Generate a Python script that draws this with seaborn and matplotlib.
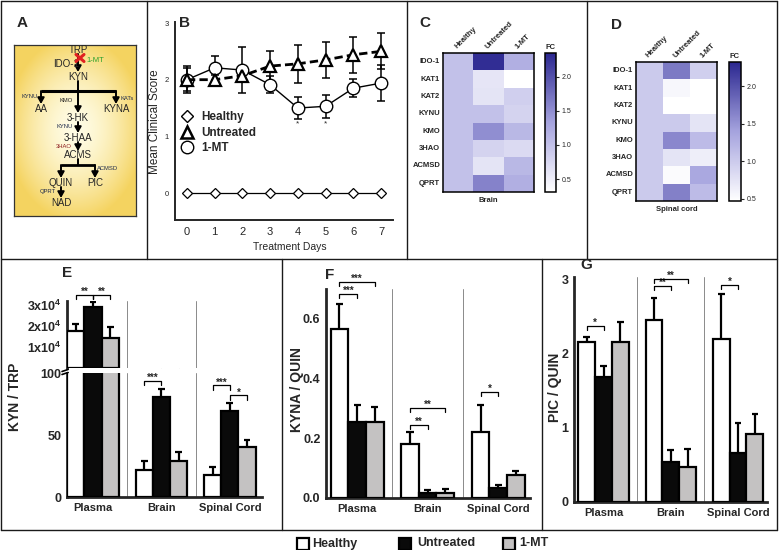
import numpy as np
import pandas as pd
import matplotlib
matplotlib.use('Agg')
import matplotlib.pyplot as plt
import seaborn as sns
from matplotlib.colors import LinearSegmentedColormap
from matplotlib.patches import Rectangle
from matplotlib.lines import Line2D

# ------------------------------------------------------------------ data
days = [0, 1, 2, 3, 4, 5, 6, 7]
healthy_score = [0, 0, 0, 0, 0, 0, 0, 0]
untreated_score = [2.00, 2.00, 2.07, 2.24, 2.28, 2.35, 2.44, 2.50]
untreated_err = [0.20, 0.09, 0.10, 0.26, 0.33, 0.32, 0.32, 0.32]
mt_score = [2.00, 2.21, 2.17, 1.91, 1.50, 1.53, 1.85, 1.94]
mt_err = [0.24, 0.21, 0.40, 0.15, 0.19, 0.20, 0.16, 0.32]
star_days = [4, 5]

genes = ['IDO-1', 'KAT1', 'KAT2', 'KYNU', 'KMO', '3HAO', 'ACMSD', 'QPRT']
heat_cols = ['Healthy', 'Untreated', '1-MT']
brain_healthy = [1.0, 1.0, 1.0, 1.0, 1.0, 1.0, 1.0, 1.0]
brain_untreated = [2.30, 0.60, 0.62, 1.00, 1.50, 0.80, 0.62, 1.60]
brain_mt = [1.20, 0.31, 0.85, 0.80, 1.10, 0.72, 1.10, 1.20]
spinal_healthy = [1.0, 1.0, 1.0, 1.0, 1.0, 1.0, 1.0, 1.0]
spinal_untreated = [1.70, 0.55, 0.47, 1.00, 1.60, 0.75, 0.52, 1.65]
spinal_mt = [0.95, 0.47, 0.47, 0.75, 1.15, 0.65, 1.35, 1.15]
cbar_ticks = [0.5, 1.0, 1.5, 2.0]

tissues = ['Plasma', 'Brain', 'Spinal Cord']
groups = ['Healthy', 'Untreated', '1-MT']

kyn_trp_healthy = [17500, 22, 18]
kyn_trp_healthy_err = [3500, 7, 6]
kyn_trp_untreated = [29000, 81, 69]
kyn_trp_untreated_err = [2500, 6, 7]
kyn_trp_mt = [14500, 29, 40]
kyn_trp_mt_err = [5000, 7.5, 6]

kyna_quin_healthy = [0.565, 0.18, 0.22]
kyna_quin_healthy_err = [0.085, 0.04, 0.09]
kyna_quin_untreated = [0.255, 0.018, 0.035]
kyna_quin_untreated_err = [0.055, 0.009, 0.010]
kyna_quin_mt = [0.255, 0.018, 0.078]
kyna_quin_mt_err = [0.050, 0.012, 0.012]

pic_quin_healthy = [2.16, 2.45, 2.20]
pic_quin_healthy_err = [0.06, 0.30, 0.60]
pic_quin_untreated = [1.68, 0.54, 0.66]
pic_quin_untreated_err = [0.15, 0.16, 0.41]
pic_quin_mt = [2.15, 0.47, 0.91]
pic_quin_mt_err = [0.27, 0.24, 0.28]

# ------------------------------------------------------------------ style
sns.set_style('white')
plt.rcParams['font.family'] = ['Liberation Sans', 'DejaVu Sans']
plt.rcParams['mathtext.fontset'] = 'custom'
plt.rcParams['mathtext.rm'] = 'Liberation Sans'
plt.rcParams['mathtext.bf'] = 'Liberation Sans:bold'

W, H = 779, 550
fig = plt.figure(figsize=(W / 100, H / 100), dpi=100)
fig.patch.set_facecolor('white')


def box(x0, y0, x1, y1):
    return [x0 / W, 1 - y1 / H, (x1 - x0) / W, (y1 - y0) / H]


def fx(x):
    return x / W


def fy(y):
    return 1 - y / H


def fline(x0, y0, x1, y1, color='#1a1a1a', lw=1.0):
    fig.add_artist(Line2D([fx(x0), fx(x1)], [fy(y0), fy(y1)],
                          transform=fig.transFigure, color=color, lw=lw))


# panel frames
fline(1, 1, 777, 1); fline(1, 530, 777, 530)
fline(1, 1, 1, 530); fline(777, 1, 777, 530)
fline(1, 259, 777, 259)
fline(147, 1, 147, 259); fline(407, 1, 407, 259); fline(587, 1, 587, 259)
fline(282, 259, 282, 530); fline(542, 259, 542, 530)

# panel letters
for letter, (px, py) in {'A': (22, 23), 'B': (185, 23), 'C': (425, 23), 'D': (617, 25),
                         'E': (67, 273), 'F': (330, 275), 'G': (586, 265)}.items():
    fig.text(fx(px), fy(py), letter, fontsize=11, fontweight='bold', ha='center', va='center')

# ------------------------------------------------------------------ panel A (pathway diagram)
axA = fig.add_axes(box(14, 45, 136, 216))
axA.set_xlim(14, 136)
axA.set_ylim(216, 45)
yy, xx = np.mgrid[45:216:1.0, 14:136:1.0]
r = np.clip(np.sqrt(((xx - 75) / 68) ** 2 + ((yy - 128) / 92) ** 2), 0, 1) ** 1.6
c0 = np.array([1.0, 0.99, 0.90])
c1 = np.array([0.96, 0.83, 0.38])
img = c0[None, None, :] * (1 - r[..., None]) + c1[None, None, :] * r[..., None]
axA.imshow(img, extent=(14, 136, 216, 45), aspect='auto', zorder=0)
axA.set_xticks([]); axA.set_yticks([])
for s in axA.spines.values():
    s.set_visible(True); s.set_color('#333333'); s.set_linewidth(0.9)

nf = ['Liberation Sans Narrow', 'Liberation Sans', 'DejaVu Sans']
for txt, (px, py) in {'TRP': (78, 50), 'IDO-1': (66, 64), 'KYN': (78, 77), 'AA': (41, 109),
                      'KYNA': (116, 109), '3-HK': (78, 118), '3-HAA': (78, 138),
                      'ACMS': (78, 155), 'QUIN': (61, 183), 'PIC': (95, 183), 'NAD': (61, 203)}.items():
    axA.text(px, py, txt, fontsize=7, ha='center', va='center', family=nf, zorder=3)
for txt, (px, py), col in [('KYNU', (30, 97), '#1f2a4a'), ('KMO', (66, 101), '#1a1a1a'),
                           ('KATs', (127, 99), '#1f2a4a'), ('KYNU', (65, 127), '#1f2a4a'),
                           ('3HAO', (64, 147), '#8b1a1a'), ('ACMSD', (108, 168), '#1f2a4a'),
                           ('QPRT', (48, 192), '#1f2a4a')]:
    axA.text(px, py, txt, fontsize=4.2, ha='center', va='center', color=col, family=nf, zorder=3)
axA.text(86, 61, '1-MT', fontsize=5.5, ha='left', va='center', color='#2aa02a', family=nf, zorder=3)


def arrow(x0, y0, x1, y1):
    axA.annotate('', xy=(x1, y1), xytext=(x0, y0),
                 arrowprops=dict(arrowstyle='-|>,head_length=0.5,head_width=0.28', lw=1.4,
                                 color='black', shrinkA=0, shrinkB=0, mutation_scale=7), zorder=2)


arrow(78, 54, 78, 72)
arrow(78, 81, 78, 113)
axA.plot([41, 116], [91, 91], color='black', lw=2.2, solid_capstyle='butt', zorder=2)
arrow(41, 91, 41, 104)
arrow(116, 91, 116, 104)
arrow(78, 122, 78, 133)
arrow(78, 142, 78, 151)
axA.plot([78, 78], [159, 165], color='black', lw=1.4, zorder=2)
axA.plot([61, 95], [165, 165], color='black', lw=2.0, solid_capstyle='butt', zorder=2)
arrow(61, 165, 61, 178)
arrow(95, 165, 95, 178)
arrow(61, 187, 61, 198)
axA.plot([76, 84], [54.5, 61.5], color='#e02020', lw=2.2, zorder=4)
axA.plot([76, 84], [61.5, 54.5], color='#e02020', lw=2.2, zorder=4)

# ------------------------------------------------------------------ panel B (clinical score)
axB = fig.add_axes(box(175, 22, 393, 220))
axB.errorbar(days, untreated_score, yerr=untreated_err, fmt='none', ecolor='black',
             elinewidth=1.1, capsize=3, capthick=1.1, zorder=2)
axB.errorbar(days, mt_score, yerr=mt_err, fmt='none', ecolor='black',
             elinewidth=1.1, capsize=3, capthick=1.1, zorder=2)
sns.lineplot(x=days, y=healthy_score, ax=axB, color='black', lw=0.9, marker='D', markersize=5,
             markerfacecolor='white', markeredgecolor='black', markeredgewidth=0.9, zorder=3)
sns.lineplot(x=days, y=mt_score, ax=axB, color='black', lw=1.0, marker='o', markersize=9,
             markerfacecolor='white', markeredgecolor='black', markeredgewidth=1.0, zorder=3)
sns.lineplot(x=days, y=untreated_score, ax=axB, color='black', lw=2.0, linestyle=(0, (3, 1.5)),
             marker='^', markersize=8, markerfacecolor='white', markeredgecolor='black',
             markeredgewidth=1.6, zorder=4)
for d in star_days:
    axB.text(d, 1.22, '*', fontsize=6, ha='center', va='center')
axB.set_xlim(-0.43, 7.43)
axB.set_ylim(-0.476, 3.018)
axB.set_xticks(days)
axB.set_yticks([0, 1, 2, 3])
axB.tick_params(axis='x', labelsize=8, length=3, width=1.2, pad=2)
axB.tick_params(axis='y', labelsize=5.5, length=2.5, width=1.2, pad=2)
for s in ['top', 'right']:
    axB.spines[s].set_visible(False)
for s in ['left', 'bottom']:
    axB.spines[s].set_linewidth(1.4)
axB.set_xlabel(''); axB.set_ylabel('')
handles = [Line2D([], [], marker='D', ls='none', ms=6, mfc='white', mec='black', mew=1.0),
           Line2D([], [], marker='^', ls='none', ms=8, mfc='white', mec='black', mew=1.8),
           Line2D([], [], marker='o', ls='none', ms=9, mfc='white', mec='black', mew=1.0)]
axB.legend(handles, groups, loc='upper left', bbox_to_anchor=(0.023, 0.55), frameon=False,
           prop={'weight': 'bold', 'size': 8.5}, handlelength=1.2, handletextpad=0.6,
           labelspacing=0.3, borderpad=0, borderaxespad=0)
fig.text(fx(155), fy(122), 'Mean Clinical Score', rotation=90, fontsize=8.5, ha='center', va='center')
fig.text(fx(290), fy(247), 'Treatment Days', fontsize=7.5, ha='center', va='center')

# ------------------------------------------------------------------ panels C, D (heatmaps)
cmap = LinearSegmentedColormap.from_list('fc', ['#ffffff', '#a5a3de', '#2b2790'])


def heat(cols, hbox, cbox, vmin, vmax, label):
    df = pd.DataFrame(dict(zip(heat_cols, cols)), index=genes)
    ax = fig.add_axes(box(*hbox))
    cax = fig.add_axes(box(*cbox))
    sns.heatmap(df, ax=ax, cbar_ax=cax, cmap=cmap, vmin=vmin, vmax=vmax,
                cbar_kws={'ticks': cbar_ticks})
    ax.xaxis.tick_top()
    ax.set_xticklabels(heat_cols, rotation=45, ha='left', rotation_mode='anchor',
                       fontsize=5.5, fontweight='bold')
    ax.set_yticklabels(genes, rotation=0, fontsize=5.5, fontweight='bold')
    ax.tick_params(length=0, pad=2)
    for s in ax.spines.values():
        s.set_visible(True); s.set_linewidth(1.1); s.set_color('black')
    ax.text(0.5, -0.035, label, transform=ax.transAxes, ha='center', va='top',
            fontsize=5.5, fontweight='bold')
    cbar = ax.collections[0].colorbar
    cbar.outline.set_linewidth(1.1)
    cbar.outline.set_edgecolor('black')
    cax.set_yticklabels(['0.5', '1.0', '1.5', '2.0'])
    cax.tick_params(labelsize=5, length=2, width=0.8, pad=2)
    cax.set_title('FC', fontsize=5.5, fontweight='bold', pad=3)


heat([brain_healthy, brain_untreated, brain_mt], (443, 53, 534, 192), (545, 53, 556, 192),
     0.31, 2.35, 'Brain')
heat([spinal_healthy, spinal_untreated, spinal_mt], (636, 62, 717, 201), (729, 62, 741, 201),
     0.47, 2.32, 'Spinal cord')

# ------------------------------------------------------------------ panels E, F, G (bars)
palette = {'Healthy': '#ffffff', 'Untreated': '#0a0a0a', '1-MT': '#c4c2c2'}


def make_df(h, u, m):
    return pd.DataFrame({'tissue': tissues * 3,
                         'group': [g for g in groups for _ in tissues],
                         'value': list(h) + list(u) + list(m)})


def draw_bars(ax, df, vals, errs, which):
    sns.barplot(data=df, x='tissue', y='value', hue='group', order=tissues, hue_order=groups,
                palette=palette, edgecolor='black', linewidth=1.6, width=0.75, errorbar=None,
                legend=False, ax=ax, zorder=3)
    for gi in range(3):
        for ti in which:
            x = ti + (gi - 1) * 0.25
            v, e = vals[gi][ti], errs[gi][ti]
            ax.plot([x, x], [v, v + e], color='black', lw=1.6, zorder=4, solid_capstyle='butt')
            ax.plot([x - 0.05, x + 0.05], [v + e, v + e], color='black', lw=1.6, zorder=4,
                    solid_capstyle='butt')
    for xv in (0.5, 1.5):
        ax.axvline(xv, color='#8a8a8a', lw=0.7, zorder=1)
    ax.set_xlabel(''); ax.set_ylabel('')
    for s in ['top', 'right']:
        ax.spines[s].set_visible(False)
    for s in ['left', 'bottom']:
        ax.spines[s].set_linewidth(2.0)
    ax.tick_params(axis='y', labelsize=9, length=3, width=1.6, pad=1)
    for t in ax.get_yticklabels():
        t.set_fontweight('bold')


def set_xcats(ax):
    ax.set_xticks([0, 1, 2])
    ax.set_xticklabels(tissues, fontsize=8, fontweight='bold')
    ax.set_xticks([-0.25, 0.25, 0.75, 1.25, 1.75, 2.25], minor=True)
    ax.tick_params(axis='x', which='both', length=3, width=1.5, pad=1)


def sig(ax, x1, x2, y, h, txt):
    ax.plot([x1, x1, x2, x2], [y - h, y, y, y - h], color='black', lw=0.9, clip_on=False, zorder=5)
    ax.annotate(txt, xy=((x1 + x2) / 2, y), xytext=(0, -1.5), textcoords='offset points',
                ha='center', va='bottom', fontsize=7, fontweight='bold', annotation_clip=False)


# ---- E (broken axis)
e_vals = [kyn_trp_healthy, kyn_trp_untreated, kyn_trp_mt]
e_errs = [kyn_trp_healthy_err, kyn_trp_untreated_err, kyn_trp_mt_err]
axE_lo = fig.add_axes(box(67, 373, 262, 497))
axE_hi = fig.add_axes(box(67, 301, 262, 368))
df_e = make_df(*e_vals)
draw_bars(axE_lo, df_e, e_vals, e_errs, [1, 2])
draw_bars(axE_hi, df_e[df_e['tissue'] == 'Plasma'], e_vals, e_errs, [0])
for ax in (axE_lo, axE_hi):
    ax.set_xlim(-0.38, 2.47)
axE_lo.set_ylim(0, 100)
axE_lo.set_yticks([0, 50, 100])
axE_lo.set_yticklabels(['0', '50', '100'])
set_xcats(axE_lo)
axE_hi.set_ylim(0, 32000)
axE_hi.set_yticks([10000, 20000, 30000])
axE_hi.set_yticklabels([r'$\mathbf{1x10^{4}}$', r'$\mathbf{2x10^{4}}$', r'$\mathbf{3x10^{4}}$'])
axE_hi.spines['bottom'].set_visible(False)
axE_hi.set_xticks([])
axE_hi.set_xticks([], minor=True)
for t in axE_lo.get_yticklabels() + axE_hi.get_yticklabels():
    t.set_fontweight('bold')
fline(62, 371.5, 68, 369.5, color='black', lw=1.2)
fline(62, 374.5, 68, 372.5, color='black', lw=1.2)
sig(axE_hi, -0.25, 0.0, 34900, 1900, '**')
sig(axE_hi, 0.0, 0.25, 34900, 1900, '**')
sig(axE_lo, 0.75, 1.0, 93.5, 3.5, '***')
sig(axE_lo, 1.0, 1.25, 108, 3.5, '**')
sig(axE_lo, 1.75, 2.0, 90, 3.5, '***')
sig(axE_lo, 2.0, 2.25, 82, 3.5, '*')
fig.text(fx(15), fy(397), 'KYN / TRP', rotation=90, fontsize=10, fontweight='bold',
         ha='center', va='center')

# ---- F
f_vals = [kyna_quin_healthy, kyna_quin_untreated, kyna_quin_mt]
f_errs = [kyna_quin_healthy_err, kyna_quin_untreated_err, kyna_quin_mt_err]
axF = fig.add_axes(box(326, 289, 530, 498))
draw_bars(axF, make_df(*f_vals), f_vals, f_errs, [0, 1, 2])
axF.set_xlim(-0.44, 2.45)
axF.set_ylim(0, 0.70)
axF.set_yticks([0.0, 0.2, 0.4, 0.6])
axF.set_yticklabels(['0.0', '0.2', '0.4', '0.6'], fontweight='bold')
set_xcats(axF)
sig(axF, -0.25, 0.0, 0.684, 0.0134, '***')
sig(axF, -0.25, 0.25, 0.725, 0.0134, '***')
sig(axF, 0.75, 1.0, 0.245, 0.0134, '**')
sig(axF, 0.75, 1.25, 0.303, 0.0134, '**')
sig(axF, 1.75, 2.0, 0.356, 0.0134, '*')
fig.text(fx(297), fy(390), 'KYNA / QUIN', rotation=90, fontsize=10, fontweight='bold',
         ha='center', va='center')

# ---- G
g_vals = [pic_quin_healthy, pic_quin_untreated, pic_quin_mt]
g_errs = [pic_quin_healthy_err, pic_quin_untreated_err, pic_quin_mt_err]
axG = fig.add_axes(box(574, 277, 767, 502))
draw_bars(axG, make_df(*g_vals), g_vals, g_errs, [0, 1, 2])
axG.set_xlim(-0.44, 2.43)
axG.set_ylim(0, 3.03)
axG.set_yticks([0, 1, 2, 3])
axG.set_yticklabels(['0', '1', '2', '3'], fontweight='bold')
set_xcats(axG)
sig(axG, -0.25, 0.0, 2.37, 0.054, '*')
sig(axG, 0.75, 1.0, 2.91, 0.054, '**')
sig(axG, 0.75, 1.25, 3.0, 0.054, '**')
sig(axG, 1.75, 2.0, 2.92, 0.054, '*')
fig.text(fx(555), fy(387), 'PIC / QUIN', rotation=90, fontsize=10, fontweight='bold',
         ha='center', va='center')

# ------------------------------------------------------------------ bottom legend
for (sx, label, tx) in [(297, 'Healthy', 312), (399, 'Untreated', 417), (503, '1-MT', 519)]:
    fig.add_artist(Rectangle((fx(sx), fy(550 - 550 + 549)), 0, 0, visible=False))
    fig.add_artist(Rectangle((fx(sx), fy(549.5)), 12 / W, 12 / H, transform=fig.transFigure,
                             facecolor=palette[label], edgecolor='black', lw=1.6))
    fig.text(fx(tx), fy(543.5), label, fontsize=9, fontweight='bold', ha='left', va='center')

fig.savefig('out.png', dpi=100, facecolor='white')
